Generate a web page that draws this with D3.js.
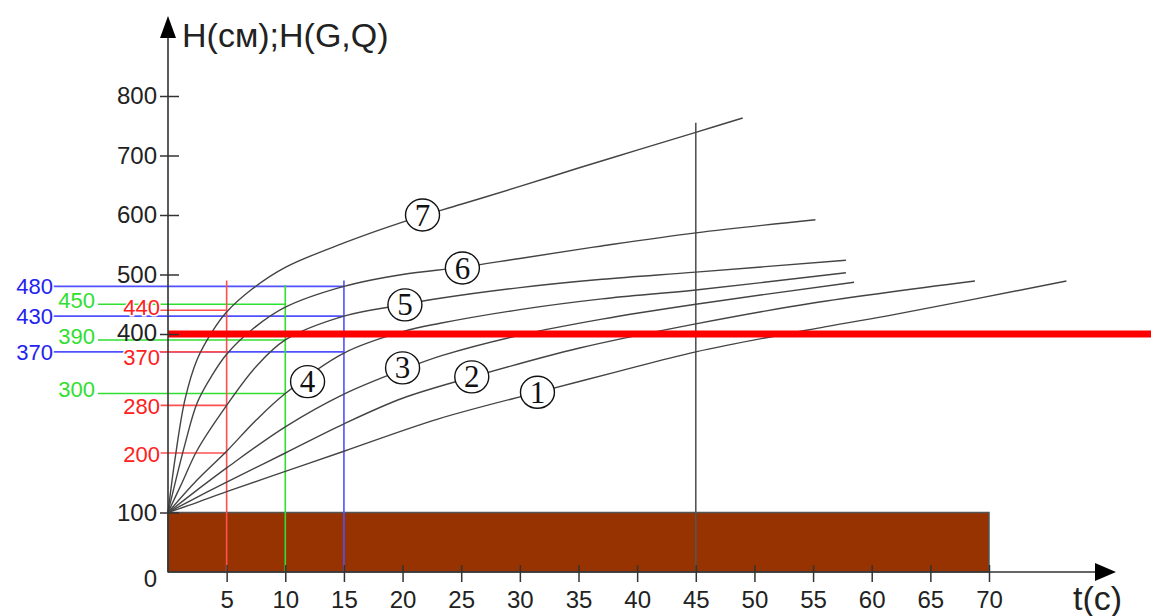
<!DOCTYPE html>
<html>
<head>
<meta charset="utf-8">
<script src="https://cdn.jsdelivr.net/npm/d3@7"></script>
<style>
  body { margin: 0; background: #fff; }
  svg text { font-family: "Liberation Sans", Arial, sans-serif; }
</style>
</head>
<body>
<div id="chart"></div>
<script>
// time ticks (s) and height ticks (cm)
const tickT = [5, 10, 15, 20, 25, 30, 35, 40, 45, 50, 55, 60, 65, 70];
const tickH = [0, 100, 400, 500, 600, 700, 800];

// curves 1..7, [t, H]
const curve1 = [[0, 100], [2.5, 117], [5, 135], [10, 169], [15, 203], [23, 257], [31.5, 302], [38, 335], [45, 370], [56, 412], [62, 433], [76.6, 489]];
const curve2 = [[0, 100], [2.5, 126], [5, 151], [10, 200], [15, 249], [20, 292], [26, 328], [35, 376], [45, 417], [55, 452], [68.8, 489]];
const curve3 = [[0, 100], [2.5, 138], [5, 175], [10, 244], [15, 299], [20, 340], [23.4, 364], [30, 398], [37, 425], [45, 450], [58.5, 487]];
const curve4 = [[0, 100], [2.5, 155], [5, 203], [7.5, 255], [10, 300], [15, 368], [20, 404], [23.2, 418], [30, 441], [37, 459], [45, 474], [57.8, 503]];
const curve5 = [[0, 100], [1.2, 150], [2.5, 205], [5, 280], [7.5, 345], [10, 390], [15, 430], [20, 449], [23.2, 460], [30, 478], [37, 492], [45, 504], [57.8, 524]];
const curve6 = [[0, 100], [1.45, 215], [2.5, 285], [3.8, 332], [5, 366], [7.2, 408], [10, 445], [15, 480], [20, 500], [25, 512], [30, 527], [37, 548], [45, 570], [55.2, 592]];
const curve7 = [[0, 100], [0.6, 190], [1.45, 290], [2.5, 358], [3.8, 405], [5, 437], [7.2, 476], [10, 512], [15, 553], [20, 588], [25, 618], [30, 648], [35, 679], [40, 709], [45, 739], [49, 763]];

// circled curve numbers, placed on the curves
const labelNums = ['1', '2', '3', '4', '5', '6', '7'];
const labelT = [31.5, 25.9, 20, 11.9, 20.2, 25.1, 21.7];
const labelH = [302, 328, 343, 320, 449, 511, 600];

// reading lines at t = 5 (red), 10 (green), 15 (blue)
const redT = 5, redMarks = [440, 370, 280, 200], redTop = 490;
const greenT = 10, greenMarks = [450, 390, 300], greenTop = 482;
const blueT = 15, blueMarks = [480, 430, 370], blueTop = 490;

const limitH = 400;      // thick red level
const cutT = 45, cutTop = 755;
const baseH = 100, baseT = 70; // brown block

const width = 1151, height = 616;

const svg = d3.select('#chart').append('svg')
  .attr('width', width)
  .attr('height', height);

const x = d3.scaleLinear().domain([0, 70]).range([168, 989]);
const y = d3.scaleLinear().domain([0, 800]).range([572, 96]);

// brown block
svg.append('rect')
  .attr('x', x(0)).attr('y', y(baseH))
  .attr('width', x(baseT) - x(0)).attr('height', y(0) - y(baseH))
  .attr('fill', '#973300')
  .attr('stroke', '#555').attr('stroke-width', 1.5);

// vertical reading lines + horizontal ones back to the labels
const guides = [
  { t: blueT, top: blueTop, marks: blueMarks, line: '#5050ff', text: '#2323f0', lx: 53, ly: () => 0, from: 53 },
  { t: greenT, top: greenTop, marks: greenMarks, line: '#30e030', text: '#30e030', lx: 95, ly: () => -4, from: 98 },
  // red 440 / 370 nudged apart from the black 400 tick label
  { t: redT, top: redTop, marks: redMarks, line: '#ff5050', text: '#ff2020', lx: 160, ly: d => (d === 440 ? -3 : d === 370 ? 5 : 1), from: 160 },
];

guides.forEach(g => {
  svg.append('line')
    .attr('x1', x(g.t)).attr('x2', x(g.t))
    .attr('y1', y(0)).attr('y2', y(g.top))
    .attr('stroke', g.line).attr('stroke-width', 1.6);
  svg.selectAll(null).data(g.marks).enter().append('line')
    .attr('x1', g.from).attr('x2', x(g.t))
    .attr('y1', d => y(d)).attr('y2', d => y(d))
    .attr('stroke', g.line).attr('stroke-width', 1.6);
});

svg.append('line')
  .attr('x1', x(cutT)).attr('x2', x(cutT))
  .attr('y1', y(0)).attr('y2', y(cutTop))
  .attr('stroke', '#555').attr('stroke-width', 1.6);

// curves
const line = d3.line()
  .x(d => x(d[0]))
  .y(d => y(d[1]))
  .curve(d3.curveCatmullRom.alpha(0.5));

svg.selectAll('.curve')
  .data([curve1, curve2, curve3, curve4, curve5, curve6, curve7])
  .enter().append('path')
  .attr('class', 'curve')
  .attr('d', line)
  .attr('fill', 'none')
  .attr('stroke', '#444')
  .attr('stroke-width', 1.4);

// thick red level line
svg.append('line')
  .attr('x1', x(0)).attr('x2', width)
  .attr('y1', y(limitH)).attr('y2', y(limitH))
  .attr('stroke', '#ff0000').attr('stroke-width', 7);

// circled numbers
const tags = svg.selectAll('.tag')
  .data(labelNums.map((n, i) => ({ n, t: labelT[i], h: labelH[i] })))
  .enter().append('g')
  .attr('class', 'tag')
  .attr('transform', d => `translate(${x(d.t)},${y(d.h)})`);
tags.append('ellipse')
  .attr('rx', 17).attr('ry', 16)
  .attr('fill', '#fff').attr('stroke', '#111').attr('stroke-width', 1.4);
tags.append('text')
  .attr('text-anchor', 'middle')
  .attr('dy', '0.34em')
  .style('font-family', '"Liberation Serif", "Times New Roman", serif')
  .style('font-size', '31px')
  .attr('fill', '#111')
  .text(d => d.n);

// x axis
const xAxis = d3.axisBottom(x).tickValues(tickT).tickSize(10).tickPadding(9).tickSizeOuter(0);
const gx = svg.append('g')
  .attr('transform', `translate(0,${y(0)})`)
  .call(xAxis);
gx.select('.domain').remove();
gx.selectAll('.tick line').attr('y1', -7).attr('stroke', '#333').attr('stroke-width', 1.5);
gx.selectAll('.tick text').attr('fill', '#222').style('font-size', '24px').style('font-family', '"Liberation Sans", Arial, sans-serif');

svg.append('line')
  .attr('x1', x(0)).attr('x2', 1100)
  .attr('y1', y(0)).attr('y2', y(0))
  .attr('stroke', '#333').attr('stroke-width', 1.6);
svg.append('path')
  .attr('d', `M1095,${y(0) - 9} L1116,${y(0)} L1095,${y(0) + 9} Z`)
  .attr('fill', '#000');

// y axis
const yAxis = d3.axisLeft(y).tickValues(tickH).tickSize(8).tickPadding(3).tickSizeOuter(0);
const gy = svg.append('g')
  .attr('transform', `translate(${x(0)},0)`)
  .call(yAxis);
gy.select('.domain').remove();
gy.selectAll('.tick line').attr('x2', -8).attr('x1', 11).attr('stroke', '#333').attr('stroke-width', 1.5);
gy.selectAll('.tick').filter(d => d === 0).select('line').remove();
gy.selectAll('.tick').filter(d => d === 0).select('text').attr('dy', '0.6em');
gy.selectAll('.tick').filter(d => d === 400).select('text').attr('dy', '0.28em');
gy.selectAll('.tick text').attr('fill', '#222').style('font-size', '24px').style('font-family', '"Liberation Sans", Arial, sans-serif');

svg.append('line')
  .attr('x1', x(0)).attr('x2', x(0))
  .attr('y1', y(0)).attr('y2', 34)
  .attr('stroke', '#333').attr('stroke-width', 1.6);
svg.append('path')
  .attr('d', `M${x(0) - 8},38 L${x(0)},16 L${x(0) + 8},38 Z`)
  .attr('fill', '#000');

// axis titles
svg.append('text')
  .attr('x', 182).attr('y', 47)
  .style('font-size', '34px')
  .attr('fill', '#222')
  .text('H(см);H(G,Q)');
svg.append('text')
  .attr('x', 1073).attr('y', 610)
  .style('font-size', '34px')
  .attr('fill', '#222')
  .text('t(с)');

// reading values at the left
guides.forEach(g => {
  svg.selectAll(null).data(g.marks).enter().append('text')
    .attr('x', g.lx)
    .attr('y', d => y(d) + g.ly(d))
    .attr('dy', '0.35em')
    .attr('text-anchor', 'end')
    .style('font-size', '22px')
    .attr('fill', g.text)
    .attr('stroke', '#fff').attr('stroke-width', 3)
    .style('paint-order', 'stroke')
    .text(d => d);
});
</script>
</body>
</html>
